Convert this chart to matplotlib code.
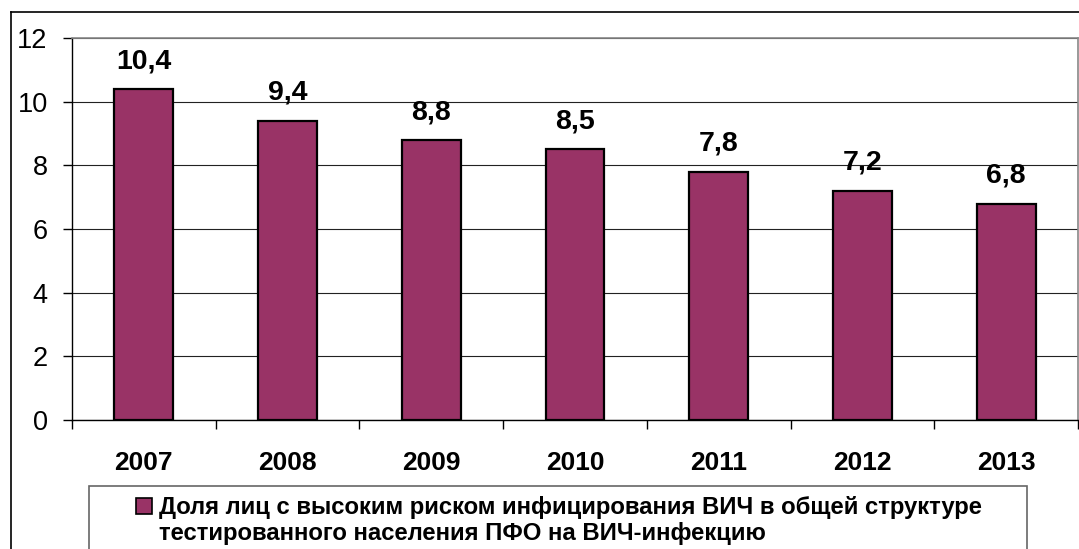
import matplotlib
matplotlib.use("Agg")
import matplotlib.pyplot as plt
from matplotlib.patches import Rectangle, Patch
from matplotlib.lines import Line2D

plt.rcParams['font.family'] = ['Liberation Sans', 'DejaVu Sans']

years = ['2007', '2008', '2009', '2010', '2011', '2012', '2013']
values = [10.4, 9.4, 8.8, 8.5, 7.8, 7.2, 6.8]
value_labels = ['10,4', '9,4', '8,8', '8,5', '7,8', '7,2', '6,8']
legend_lines = ["Доля лиц с высоким риском инфицирования ВИЧ в общей структуре",
                "тестированного населения ПФО на ВИЧ-инфекцию"]

W, H = 1079, 549
fig = plt.figure(figsize=(W / 100, H / 100), dpi=100)

def fx(px):
    return px / W

def fy(py):
    return 1 - py / H

# outer chart border (top and left visible)
fig.add_artist(Line2D([fx(11), fx(11)], [fy(12), fy(560)], color='black', lw=1.2,
                      transform=fig.transFigure))
fig.add_artist(Line2D([fx(11), fx(1085)], [fy(12), fy(12)], color='black', lw=1.2,
                      transform=fig.transFigure))

left, right, top, bottom = 72, 1078, 38, 420
ax = fig.add_axes([fx(left), fy(bottom), fx(right - left), (bottom - top) / H])

bar_color = '#993366'
x = list(range(len(years)))
bars = ax.bar(x, values, width=0.41, color=bar_color, edgecolor='black', linewidth=1.6, zorder=3)

ax.set_xlim(-0.5, len(years) - 0.5)
ax.set_ylim(0, 12)
ax.set_yticks([0, 2, 4, 6, 8, 10, 12])
ax.set_yticklabels(['0', '2', '4', '6', '8', '10', '12'], fontsize=19.5)
ax.tick_params(axis='y', direction='out', length=6.5, width=1, pad=11, color='black')

ax.set_xticks(x)
ax.set_xticklabels(years, fontsize=19, fontweight='bold')
ax.tick_params(axis='x', which='major', length=0, pad=22)
ax.set_xticks([i - 0.5 for i in range(len(years) + 1)], minor=True)
ax.tick_params(axis='x', which='minor', direction='out', length=6.5, width=1, color='black')

ax.yaxis.grid(True, color='#222222', linewidth=0.8, zorder=0)
ax.set_axisbelow(True)

for side in ['top', 'right']:
    ax.spines[side].set_color('#888888')
    ax.spines[side].set_linewidth(1.2)
for side in ['left', 'bottom']:
    ax.spines[side].set_color('black')
    ax.spines[side].set_linewidth(1)

for xi, v, lab in zip(x, values, value_labels):
    ax.annotate(lab, xy=(xi, v), xytext=(0, 15), textcoords='offset points',
                ha='center', va='baseline', fontsize=20.5, fontweight='bold')

# legend frame
fig.add_artist(Rectangle((fx(89), fy(570)), fx(1027 - 89), (570 - 486) / H,
                         transform=fig.transFigure, facecolor='white',
                         edgecolor='#666666', linewidth=1.2, zorder=1))
handles = [Patch(facecolor=bar_color, edgecolor='black', linewidth=1.2),
           Patch(facecolor='none', edgecolor='none')]
leg = fig.legend(handles, legend_lines, loc='upper center',
                 bbox_to_anchor=(fx(559), fy(496)), frameon=False,
                 prop={'size': 17.2, 'weight': 'bold'}, handlelength=0.65,
                 handleheight=0.65, handletextpad=0.3, borderpad=0, borderaxespad=0,
                 labelspacing=0.12)
leg.set_zorder(2)

fig.savefig('out.png', dpi=100)
